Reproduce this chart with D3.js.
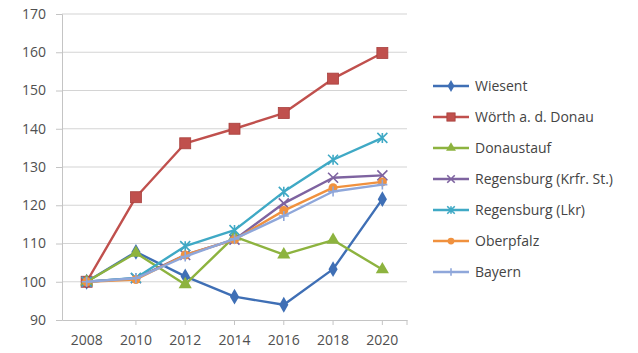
<!DOCTYPE html>
<html><head><meta charset="utf-8">
<script src="https://cdn.jsdelivr.net/npm/d3@7"></script>
<style>
html,body{margin:0;padding:0;background:#fff;}
text{font-family:"Open Sans",Lato,sans-serif;}
</style></head>
<body><svg id="c" width="638" height="353"></svg>
<script>
const years = ["2008","2010","2012","2014","2016","2018","2020"];
const yTicks = [90,100,110,120,130,140,150,160,170];
const seriesNames = ["Wiesent","Wörth a. d. Donau","Donaustauf","Regensburg (Krfr. St.)","Regensburg (Lkr)","Oberpfalz","Bayern"];
const wiesent     = [100,107.8,101.4,96.1,94,103.3,121.6];
const woerth      = [100,122.1,136.2,140,144.1,153.1,159.8];
const donaustauf  = [100,107.5,99.3,111.8,107.1,110.9,103.2];
const regKrfr     = [100,100.9,107,111,120.5,127.2,127.8];
const regLkr      = [100,101,109.3,113.5,123.5,131.9,137.6];
const oberpfalz   = [100,100.6,107,111,118.6,124.6,126.1];
const bayern      = [100,100.9,106.6,111.2,117.2,123.6,125.4];
const colors = ["#3f6fb5","#c0504d","#8db33f","#7e63a0","#3fa9c5","#f0913e","#8fa7da"];
const markers = ["diamond","square","triangle","x","star","circle","plus"];
const values = [wiesent,woerth,donaustauf,regKrfr,regLkr,oberpfalz,bayern];

const svg = d3.select("#c");
const x = d3.scaleBand().domain(years).range([62,407]);
const y = d3.scaleLinear().domain([90,170]).range([320,14]);
const cx = d => x(d)+x.bandwidth()/2;

// gridlines
svg.append("g").selectAll("line").data(yTicks.filter(t=>t>90)).join("line")
  .attr("x1",62).attr("x2",407).attr("y1",d=>y(d)).attr("y2",d=>y(d))
  .attr("stroke","#d4d4d4").attr("stroke-width",1.2);

// y axis
const ya = svg.append("g").attr("transform","translate(62,0)")
  .call(d3.axisLeft(y).tickValues(yTicks).tickSize(6).tickPadding(10));
ya.select(".domain").attr("stroke","#c4c4c4");
ya.selectAll(".tick line").attr("stroke","#c4c4c4");
ya.selectAll("text").attr("font-size",14).attr("fill","#505050");

// x axis
const xa = svg.append("g").attr("transform","translate(0,320)")
  .call(d3.axisBottom(x).tickSize(0).tickPadding(15));
xa.select(".domain").attr("stroke","#c4c4c4");
xa.selectAll("text").attr("font-size",14).attr("fill","#505050");
svg.append("g").selectAll("line").data(years.slice(1).concat(["end"])).join("line")
  .attr("x1",d=>d==="end"?407:cx(d)).attr("x2",d=>d==="end"?407:cx(d))
  .attr("y1",320).attr("y2",325).attr("stroke","#c4c4c4");

function drawMarker(g, type, color, s){
  if(type==="diamond"){
    g.append("path").attr("d",d3.symbol(d3.symbolDiamond,s*s*0.9)()).attr("fill",color);
  } else if(type==="square"){
    g.append("rect").attr("x",-s/2).attr("y",-s/2).attr("width",s).attr("height",s).attr("fill",color).attr("stroke","#a8403d").attr("stroke-width",0.8);
  } else if(type==="triangle"){
    g.append("path").attr("d",d3.symbol(d3.symbolTriangle,s*s*0.75)()).attr("fill",color);
  } else if(type==="circle"){
    g.append("circle").attr("r",s/2).attr("fill",color);
  } else if(type==="x"){
    g.append("path").attr("d",`M${-s/2},${-s/2}L${s/2},${s/2}M${-s/2},${s/2}L${s/2},${-s/2}`).attr("stroke",color).attr("stroke-width",1.6);
  } else if(type==="star"){
    g.append("path").attr("d",`M${-s/2},${-s/2}L${s/2},${s/2}M${-s/2},${s/2}L${s/2},${-s/2}M0,${-s/2}L0,${s/2}`).attr("stroke",color).attr("stroke-width",1.6);
  } else if(type==="plus"){
    g.append("path").attr("d",`M${-s/2},0L${s/2},0M0,${-s/2}L0,${s/2}`).attr("stroke",color).attr("stroke-width",1.6);
  }
}

const line = d3.line().x((d,i)=>cx(years[i])).y(d=>y(d));
const sizes = [9,11,10,10,10,9,10];
values.forEach((vals,k)=>{
  svg.append("path").datum(vals).attr("d",line).attr("fill","none")
    .attr("stroke",colors[k]).attr("stroke-width",2.4).attr("stroke-linejoin","round");
  vals.forEach((v,i)=>{
    const g = svg.append("g").attr("transform",`translate(${cx(years[i])},${y(v)})`);
    drawMarker(g, markers[k], colors[k], sizes[k]);
  });
});

// legend
const leg = svg.append("g");
seriesNames.forEach((n,k)=>{
  const ly = 86 + k*31;
  leg.append("line").attr("x1",433).attr("x2",469).attr("y1",ly).attr("y2",ly)
    .attr("stroke",colors[k]).attr("stroke-width",2.4);
  const g = leg.append("g").attr("transform",`translate(451,${ly})`);
  drawMarker(g, markers[k], colors[k], sizes[k]*0.75);
  leg.append("text").attr("x",475).attr("y",ly).attr("dy","0.35em")
    .attr("font-size",14).attr("fill","#444").text(n);
});
</script></body></html>
